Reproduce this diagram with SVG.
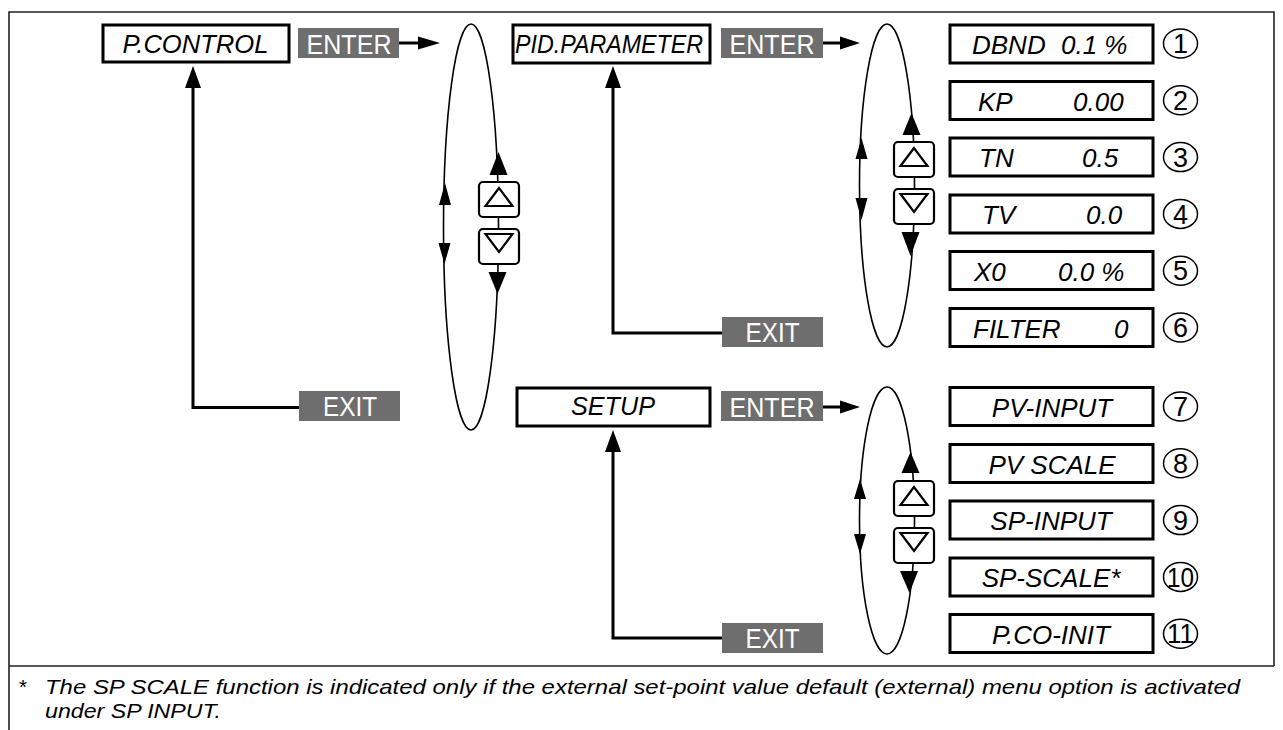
<svg xmlns="http://www.w3.org/2000/svg" width="1283" height="730" viewBox="0 0 1283 730">
<style>
text{font-family:"Liberation Sans",Arial,Helvetica,sans-serif;fill:#000}
.box{fill:#fff;stroke:#000;stroke-width:3}
.it{font-style:italic;font-size:26px}
.gbox{fill:#6e6e6e}
.gt{fill:#fff;font-size:28px;text-anchor:middle}
.ln{fill:none;stroke:#000;stroke-width:3}
.ell{fill:none;stroke:#000;stroke-width:1.6}
.btn{fill:#fff;stroke:#000;stroke-width:2.2}
.tri{fill:none;stroke:#000;stroke-width:2.2;stroke-linejoin:miter}
.ah{fill:#000}
.num{fill:none;stroke:#000;stroke-width:1.5}
.nt{font-size:27px;text-anchor:middle}
.frame{stroke:#222;stroke-width:1.6;fill:none}
.foot{font-style:italic;font-size:21px}
</style>

<g id="frame">
<path class="frame" d="M9,730 V12 H1274 V666 M9,666 H1274"/>
</g>

<g id="connectors">
<line class="ln" x1="399" y1="43" x2="422" y2="43"/>
<polygon class="ah" points="440,43 418,36.5 418,49.5"/>
<line class="ln" x1="823" y1="43" x2="844" y2="43"/>
<polygon class="ah" points="860,43 840,36.5 840,49.5"/>
<line class="ln" x1="823" y1="407" x2="844" y2="407"/>
<polygon class="ah" points="860,407 840,400.5 840,413.5"/>
<polyline class="ln" points="299,407.5 193,407.5 193,86"/>
<polygon class="ah" points="193,66 185,88 201,88"/>
<polyline class="ln" points="722,333 613,333 613,86"/>
<polygon class="ah" points="613,66 605,88 621,88"/>
<polyline class="ln" points="722,638 613,638 613,450"/>
<polygon class="ah" points="613,430 605,452 621,452"/>
</g>

<g id="cycle1">
<ellipse class="ell" cx="471" cy="227" rx="27.5" ry="203"/>
<polygon class="ah" points="445,183 439,205 451,205"/>
<polygon class="ah" points="438.5,243 450.5,243 444.5,264"/>
<polygon class="ah" points="498.5,152 489.5,175 507.5,175"/>
<polygon class="ah" points="488.5,272 506.5,272 497.5,294"/>
<rect class="btn" x="479" y="182" width="40" height="35" rx="4"/>
<rect class="btn" x="479" y="229" width="40" height="35" rx="4"/>
<polygon class="tri" points="499,188 485.5,206 512.5,206"/>
<polygon class="tri" points="485.5,234 512.5,234 499,252"/>
</g>

<g id="cycle2">
<ellipse class="ell" cx="887" cy="185.5" rx="27.5" ry="161.5"/>
<polygon class="ah" points="861.5,138 855.5,159 867.5,159"/>
<polygon class="ah" points="855.5,198 867.5,198 861.5,220"/>
<polygon class="ah" points="911.5,113 902.5,135 920.5,135"/>
<polygon class="ah" points="901.5,232 919.5,232 910.5,256"/>
<rect class="btn" x="894" y="142" width="40" height="35" rx="4"/>
<rect class="btn" x="894" y="189" width="40" height="35" rx="4"/>
<polygon class="tri" points="914,148 900.5,166 927.5,166"/>
<polygon class="tri" points="900.5,194 927.5,194 914,212"/>
</g>

<g id="cycle3">
<ellipse class="ell" cx="887" cy="520.5" rx="27.5" ry="133.5"/>
<polygon class="ah" points="860,479 854,499 866,499"/>
<polygon class="ah" points="854,534 866,534 860,554"/>
<polygon class="ah" points="910.5,452 901.5,473 919.5,473"/>
<polygon class="ah" points="900,571 918,571 909.5,593"/>
<rect class="btn" x="894" y="481" width="40" height="35" rx="4"/>
<rect class="btn" x="894" y="528" width="40" height="35" rx="4"/>
<polygon class="tri" points="914,487 900.5,505 927.5,505"/>
<polygon class="tri" points="900.5,533 927.5,533 914,551"/>
</g>

<g id="pcontrol">
<rect class="box" x="103" y="25" width="186" height="37"/>
<text class="it" x="195.5" y="53" text-anchor="middle" textLength="146" lengthAdjust="spacingAndGlyphs" font-size="27">P.CONTROL</text>
</g>
<g id="enter1">
<rect class="gbox" x="298" y="28" width="101" height="30"/>
<text class="gt" x="349" y="53.5" textLength="85" lengthAdjust="spacingAndGlyphs">ENTER</text>
</g>
<g id="exit1">
<rect class="gbox" x="299" y="391" width="101" height="30"/>
<text class="gt" x="350" y="416" textLength="54" lengthAdjust="spacingAndGlyphs">EXIT</text>
</g>

<g id="pidparameter">
<rect class="box" x="513" y="25" width="197" height="38"/>
<text class="it" x="609" y="53" text-anchor="middle" textLength="188" lengthAdjust="spacingAndGlyphs" font-size="27">PID.PARAMETER</text>
</g>
<g id="enter2">
<rect class="gbox" x="721" y="28" width="102" height="30"/>
<text class="gt" x="772" y="53.5" textLength="85" lengthAdjust="spacingAndGlyphs">ENTER</text>
</g>
<g id="exit2">
<rect class="gbox" x="722" y="317" width="101" height="30"/>
<text class="gt" x="772.5" y="342" textLength="54" lengthAdjust="spacingAndGlyphs">EXIT</text>
</g>

<g id="setup">
<rect class="box" x="517" y="388" width="193" height="38"/>
<text class="it" x="613" y="415" text-anchor="middle" textLength="84" lengthAdjust="spacingAndGlyphs" font-size="27">SETUP</text>
</g>
<g id="enter3">
<rect class="gbox" x="721" y="391" width="102" height="30"/>
<text class="gt" x="772" y="416.5" textLength="85" lengthAdjust="spacingAndGlyphs">ENTER</text>
</g>
<g id="exit3">
<rect class="gbox" x="722" y="623" width="101" height="30"/>
<text class="gt" x="772.5" y="648" textLength="54" lengthAdjust="spacingAndGlyphs">EXIT</text>
</g>

<g id="dbnd">
<rect class="box" x="950" y="25" width="203" height="38"/>
<text class="it" x="972" y="54">DBND <tspan x="1061">0.1 %</tspan></text>
<ellipse class="num" cx="1180.5" cy="43.5" rx="17" ry="14.5"/>
<text class="nt" x="1180.5" y="53">1</text>
</g>
<g id="kp">
<rect class="box" x="950" y="81.5" width="203" height="38"/>
<text class="it" x="978" y="110.5">KP <tspan x="1073">0.00</tspan></text>
<ellipse class="num" cx="1180.5" cy="100.3" rx="17" ry="14.5"/>
<text class="nt" x="1180.5" y="110">2</text>
</g>
<g id="tn">
<rect class="box" x="950" y="138" width="203" height="38"/>
<text class="it" x="979" y="167">TN <tspan x="1082">0.5</tspan></text>
<ellipse class="num" cx="1180.5" cy="157.1" rx="17" ry="14.5"/>
<text class="nt" x="1180.5" y="166.8">3</text>
</g>
<g id="tv">
<rect class="box" x="950" y="195" width="203" height="38"/>
<text class="it" x="982" y="224">TV <tspan x="1086">0.0</tspan></text>
<ellipse class="num" cx="1180.5" cy="213.9" rx="17" ry="14.5"/>
<text class="nt" x="1180.5" y="223.6">4</text>
</g>
<g id="x0">
<rect class="box" x="950" y="251.5" width="203" height="38"/>
<text class="it" x="974" y="280.5">X0 <tspan x="1058">0.0 %</tspan></text>
<ellipse class="num" cx="1180.5" cy="270.7" rx="17" ry="14.5"/>
<text class="nt" x="1180.5" y="280.4">5</text>
</g>
<g id="filter">
<rect class="box" x="950" y="308.5" width="203" height="38"/>
<text class="it" x="973" y="337.5">FILTER <tspan x="1114">0</tspan></text>
<ellipse class="num" cx="1180.5" cy="327.5" rx="17" ry="14.5"/>
<text class="nt" x="1180.5" y="337.2">6</text>
</g>
<g id="pvinput">
<rect class="box" x="950" y="387.5" width="203" height="38"/>
<text class="it" x="1052" y="416.5" text-anchor="middle">PV-INPUT</text>
<ellipse class="num" cx="1180.5" cy="406.5" rx="17" ry="14.5"/>
<text class="nt" x="1180.5" y="416.2">7</text>
</g>
<g id="pvscale">
<rect class="box" x="950" y="444.5" width="203" height="38"/>
<text class="it" x="1052" y="473.5" text-anchor="middle">PV SCALE</text>
<ellipse class="num" cx="1180.5" cy="463.3" rx="17" ry="14.5"/>
<text class="nt" x="1180.5" y="473">8</text>
</g>
<g id="spinput">
<rect class="box" x="950" y="501" width="203" height="38"/>
<text class="it" x="1051" y="530" text-anchor="middle">SP-INPUT</text>
<ellipse class="num" cx="1180.5" cy="520.1" rx="17" ry="14.5"/>
<text class="nt" x="1180.5" y="529.8">9</text>
</g>
<g id="spscale">
<rect class="box" x="950" y="558" width="203" height="38"/>
<text class="it" x="1051" y="587" text-anchor="middle">SP-SCALE*</text>
<ellipse class="num" cx="1180.5" cy="576.9" rx="17" ry="14.5"/>
<text class="nt" x="1180.5" y="586.6" textLength="27" lengthAdjust="spacingAndGlyphs">10</text>
</g>
<g id="pcoinit">
<rect class="box" x="950" y="614.5" width="203" height="38"/>
<text class="it" x="1051" y="643.5" text-anchor="middle">P.CO-INIT</text>
<ellipse class="num" cx="1180.5" cy="633.7" rx="17" ry="14.5"/>
<text class="nt" x="1180.5" y="643.4" textLength="27" lengthAdjust="spacingAndGlyphs">11</text>
</g>

<g id="footnote">
<text class="foot" x="18" y="694" font-style="normal">*</text>
<text class="foot" x="45" y="694" textLength="1195" lengthAdjust="spacingAndGlyphs">The SP SCALE function is indicated only if the external set-point value default (external) menu option is activated</text>
<text class="foot" x="45" y="718" textLength="176" lengthAdjust="spacingAndGlyphs">under SP INPUT.</text>
</g>
</svg>
